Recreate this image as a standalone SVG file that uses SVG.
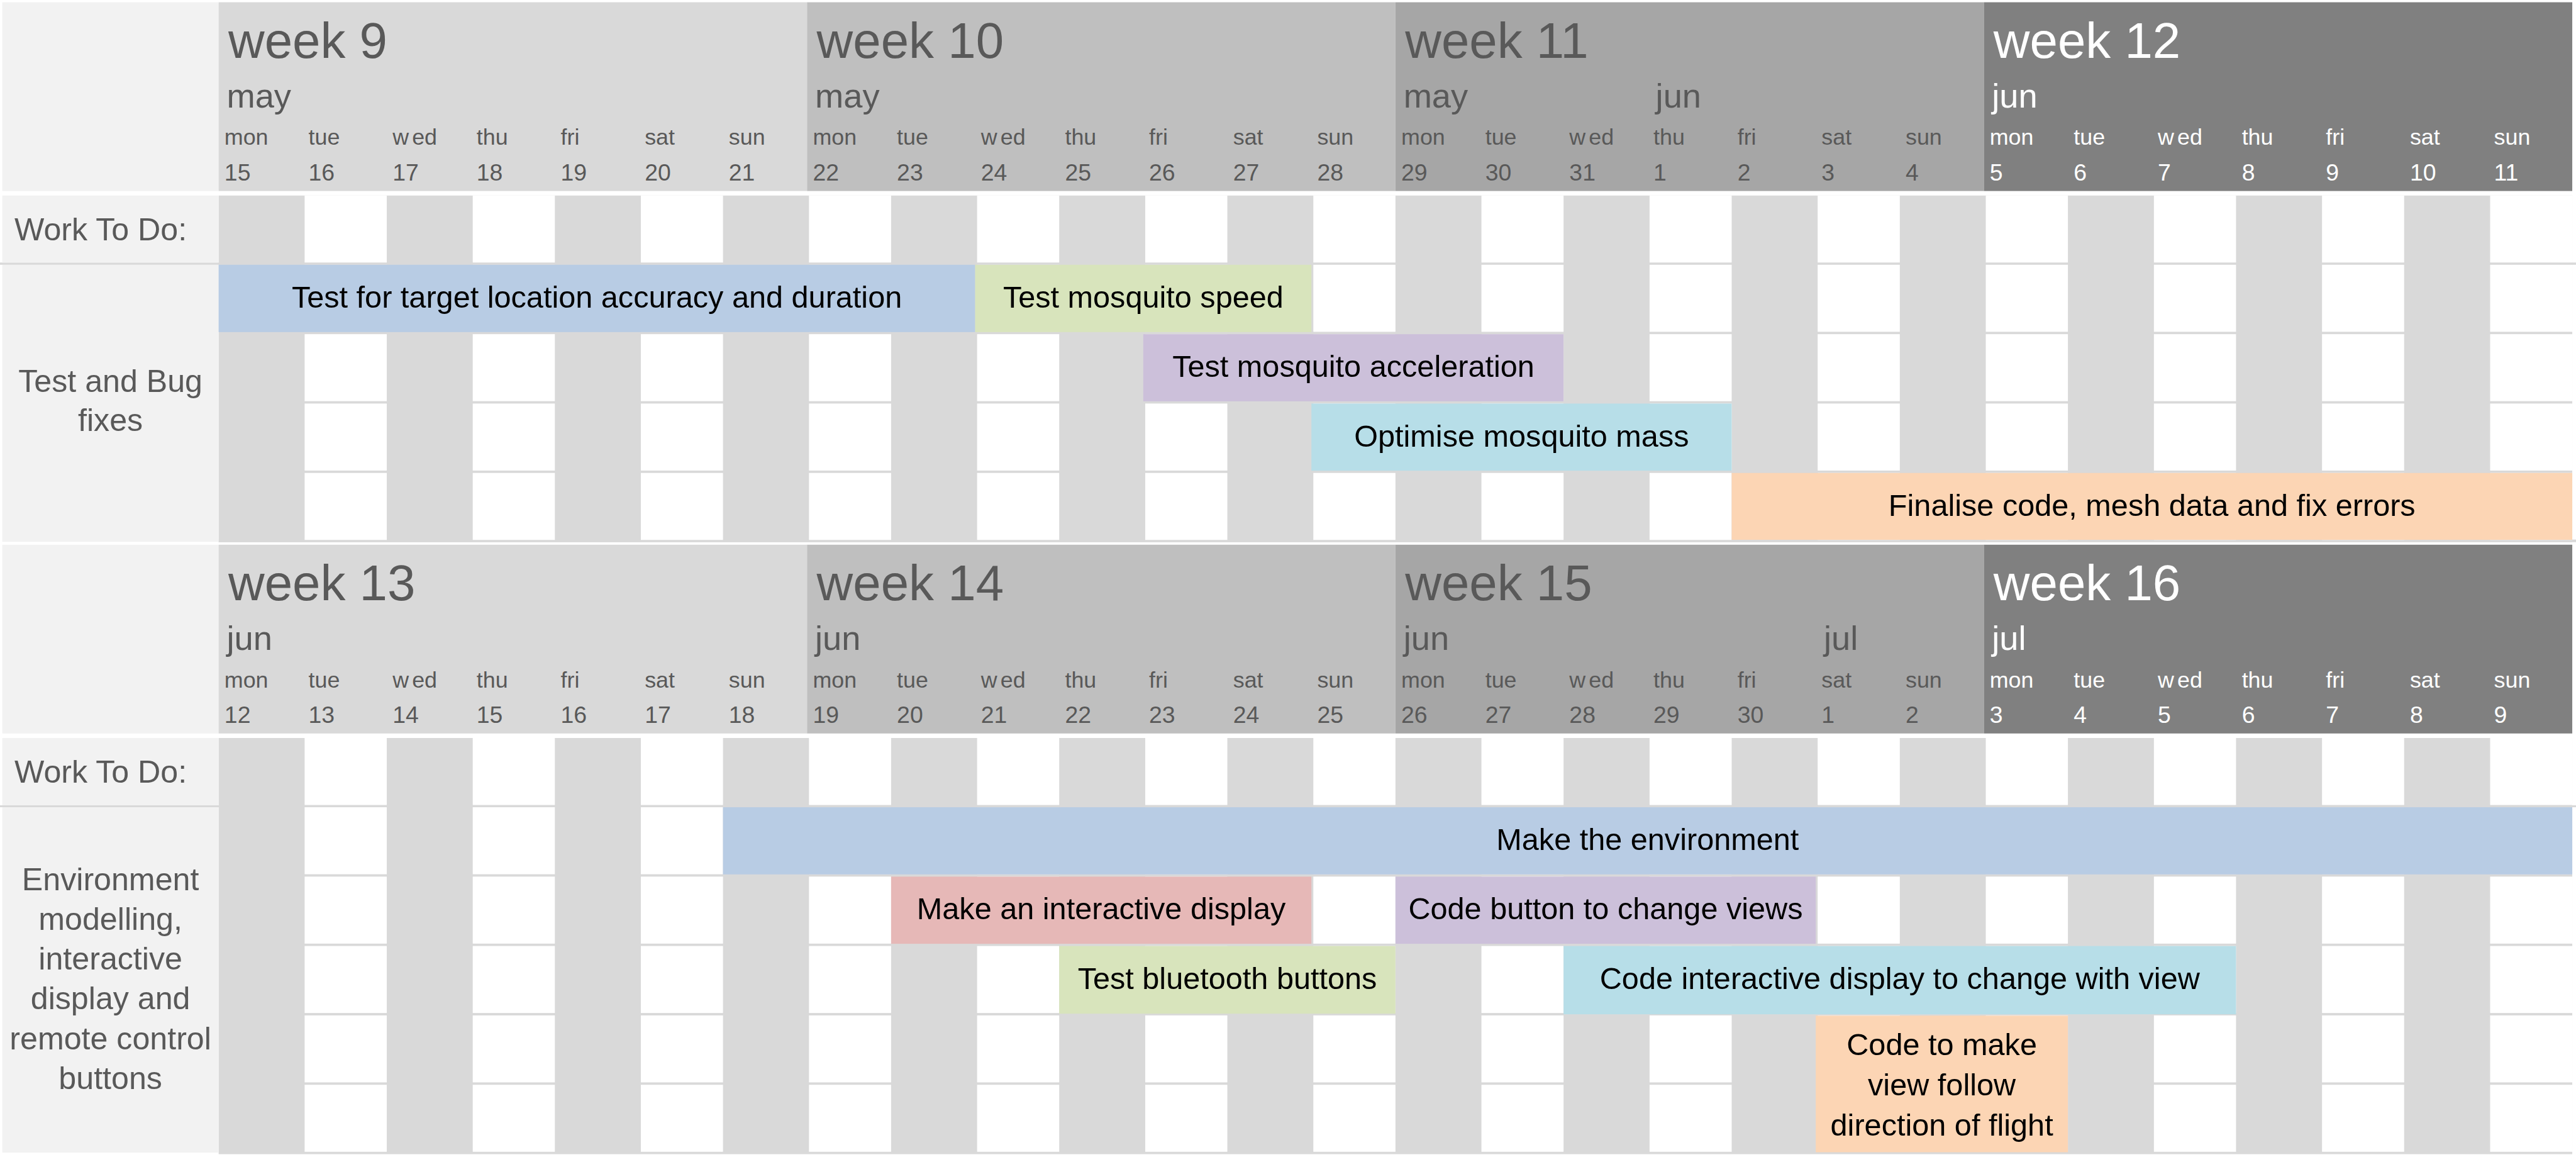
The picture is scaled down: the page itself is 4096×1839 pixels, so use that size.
<svg xmlns="http://www.w3.org/2000/svg" xmlns:xlink="http://www.w3.org/1999/xlink" width="4096" height="1839" viewBox="0 0 4096 1839">
<style>
text{font-family:"Liberation Sans",Arial,Helvetica,sans-serif}
.t{font-size:156px}
.m{font-size:106px}
.d{font-size:70px}
.n{font-size:73px}
.dk text{fill:#595959}
.lt text{fill:#ffffff}
.lbl{font-size:98px;fill:#595959}
.lblc{font-size:98px;fill:#595959;text-anchor:middle}
.bt{font-size:95px;fill:#000000;text-anchor:middle}
.lab{fill:#f2f2f2}
.gl{fill:#d9d9d9}
.wc{fill:#ffffff}
.blue{fill:#b8cce4}
.green{fill:#d8e4bc}
.purple{fill:#ccc0da}
.cyan{fill:#b7dee8}
.orange{fill:#fcd5b4}
.pink{fill:#e6b8b7}
</style>
<defs>
<g id="wrow">
<rect class="wc" x="946.05" y="0" width="255.05" height="208"/>
<rect class="wc" x="1468.15" y="0" width="255.05" height="208"/>
<rect class="wc" x="1990.25" y="0" width="255.05" height="208"/>
<rect class="wc" x="2512.35" y="0" width="255.05" height="208"/>
<rect class="wc" x="3034.45" y="0" width="255.05" height="208"/>
<rect class="wc" x="3556.55" y="0" width="255.05" height="208"/>
<rect class="wc" x="4078.65" y="0" width="255.05" height="208"/>
<rect class="wc" x="4600.75" y="0" width="255.05" height="208"/>
<rect class="wc" x="5122.85" y="0" width="255.05" height="208"/>
<rect class="wc" x="5644.95" y="0" width="255.05" height="208"/>
<rect class="wc" x="6167.05" y="0" width="255.05" height="208"/>
<rect class="wc" x="6689.15" y="0" width="255.05" height="208"/>
<rect class="wc" x="7211.25" y="0" width="255.05" height="208"/>
<rect class="wc" x="7733.35" y="0" width="255.05" height="208"/>
</g>
</defs>
<rect x="0" y="0" width="4096" height="1839" fill="#ffffff"/>
<g transform="scale(0.512)">

<g id="grid">
<rect class="gl" x="679" y="607" width="7309.4" height="1076"/>
<rect class="gl" x="0" y="815" width="8000" height="7"/>
<rect class="gl" x="679" y="1675" width="7321" height="8"/>
<use xlink:href="#wrow" y="607"/>
<use xlink:href="#wrow" y="822"/>
<use xlink:href="#wrow" y="1037.4"/>
<use xlink:href="#wrow" y="1252.8"/>
<use xlink:href="#wrow" y="1468.2"/>
<rect class="gl" x="679" y="2291" width="7309.4" height="1292"/>
<rect class="gl" x="0" y="2500" width="8000" height="6"/>
<use xlink:href="#wrow" y="2291"/>
<use xlink:href="#wrow" y="2506"/>
<use xlink:href="#wrow" y="2721.4"/>
<use xlink:href="#wrow" y="2936.8"/>
<use xlink:href="#wrow" y="3152.2"/>
<use xlink:href="#wrow" y="3367.6"/>
</g>

<g id="labels">
<g id="label-head-1"><rect class="lab" x="7" y="7" width="672" height="586"/></g>
<g id="label-work-1"><rect class="lab" x="7" y="607" width="672" height="208"/><text class="lbl" x="45" y="746">Work To Do:</text></g>
<g id="label-test"><rect class="lab" x="7" y="822" width="672" height="860"/>
<text class="lblc" x="343" y="1216">Test and Bug</text>
<text class="lblc" x="343" y="1338">fixes</text></g>
<g id="label-head-2"><rect class="lab" x="7" y="1691" width="672" height="586"/></g>
<g id="label-work-2"><rect class="lab" x="7" y="2291" width="672" height="209"/><text class="lbl" x="45" y="2430">Work To Do:</text></g>
<g id="label-env"><rect class="lab" x="7" y="2506" width="672" height="1072"/>
<text class="lblc" x="343" y="2763">Environment</text>
<text class="lblc" x="343" y="2886.5">modelling,</text>
<text class="lblc" x="343" y="3010">interactive</text>
<text class="lblc" x="343" y="3133.6">display and</text>
<text class="lblc" x="343" y="3257.5">remote control</text>
<text class="lblc" x="343" y="3380.7">buttons</text></g>
</g>

<g id="headers">
<g id="week9" class="dk" transform="translate(679,0)">
<rect x="0" y="7" width="1827.35" height="586" fill="#d9d9d9"/>
<text class="t" x="30" y="179">week 9</text>
<text class="m" x="25" y="334">may</text>
<text class="d" x="18" y="450">mon</text><text class="d" x="279.05" y="450">tue</text><text class="d" x="540.1" y="450">w<tspan dx="10">ed</tspan></text><text class="d" x="801.15" y="450">thu</text><text class="d" x="1062.2" y="450">fri</text><text class="d" x="1323.25" y="450">sat</text><text class="d" x="1584.3" y="450">sun</text>
<text class="n" x="18" y="561">15</text><text class="n" x="279.05" y="561">16</text><text class="n" x="540.1" y="561">17</text><text class="n" x="801.15" y="561">18</text><text class="n" x="1062.2" y="561">19</text><text class="n" x="1323.25" y="561">20</text><text class="n" x="1584.3" y="561">21</text>
</g>
<g id="week10" class="dk" transform="translate(2506.35,0)">
<rect x="0" y="7" width="1827.35" height="586" fill="#bfbfbf"/>
<text class="t" x="30" y="179">week 10</text>
<text class="m" x="25" y="334">may</text>
<text class="d" x="18" y="450">mon</text><text class="d" x="279.05" y="450">tue</text><text class="d" x="540.1" y="450">w<tspan dx="10">ed</tspan></text><text class="d" x="801.15" y="450">thu</text><text class="d" x="1062.2" y="450">fri</text><text class="d" x="1323.25" y="450">sat</text><text class="d" x="1584.3" y="450">sun</text>
<text class="n" x="18" y="561">22</text><text class="n" x="279.05" y="561">23</text><text class="n" x="540.1" y="561">24</text><text class="n" x="801.15" y="561">25</text><text class="n" x="1062.2" y="561">26</text><text class="n" x="1323.25" y="561">27</text><text class="n" x="1584.3" y="561">28</text>
</g>
<g id="week11" class="dk" transform="translate(4333.7,0)">
<rect x="0" y="7" width="1827.35" height="586" fill="#a6a6a6"/>
<text class="t" x="30" y="179">week 11</text>
<text class="m" x="25" y="334">may</text>
<text class="m" x="808.15" y="334">jun</text>
<text class="d" x="18" y="450">mon</text><text class="d" x="279.05" y="450">tue</text><text class="d" x="540.1" y="450">w<tspan dx="10">ed</tspan></text><text class="d" x="801.15" y="450">thu</text><text class="d" x="1062.2" y="450">fri</text><text class="d" x="1323.25" y="450">sat</text><text class="d" x="1584.3" y="450">sun</text>
<text class="n" x="18" y="561">29</text><text class="n" x="279.05" y="561">30</text><text class="n" x="540.1" y="561">31</text><text class="n" x="801.15" y="561">1</text><text class="n" x="1062.2" y="561">2</text><text class="n" x="1323.25" y="561">3</text><text class="n" x="1584.3" y="561">4</text>
</g>
<g id="week12" class="lt" transform="translate(6161.05,0)">
<rect x="0" y="7" width="1827.35" height="586" fill="#808080"/>
<text class="t" x="30" y="179">week 12</text>
<text class="m" x="25" y="334">jun</text>
<text class="d" x="18" y="450">mon</text><text class="d" x="279.05" y="450">tue</text><text class="d" x="540.1" y="450">w<tspan dx="10">ed</tspan></text><text class="d" x="801.15" y="450">thu</text><text class="d" x="1062.2" y="450">fri</text><text class="d" x="1323.25" y="450">sat</text><text class="d" x="1584.3" y="450">sun</text>
<text class="n" x="18" y="561">5</text><text class="n" x="279.05" y="561">6</text><text class="n" x="540.1" y="561">7</text><text class="n" x="801.15" y="561">8</text><text class="n" x="1062.2" y="561">9</text><text class="n" x="1323.25" y="561">10</text><text class="n" x="1584.3" y="561">11</text>
</g>
<g id="week13" class="dk" transform="translate(679,1684)">
<rect x="0" y="7" width="1827.35" height="586" fill="#d9d9d9"/>
<text class="t" x="30" y="179">week 13</text>
<text class="m" x="25" y="334">jun</text>
<text class="d" x="18" y="450">mon</text><text class="d" x="279.05" y="450">tue</text><text class="d" x="540.1" y="450">w<tspan dx="10">ed</tspan></text><text class="d" x="801.15" y="450">thu</text><text class="d" x="1062.2" y="450">fri</text><text class="d" x="1323.25" y="450">sat</text><text class="d" x="1584.3" y="450">sun</text>
<text class="n" x="18" y="561">12</text><text class="n" x="279.05" y="561">13</text><text class="n" x="540.1" y="561">14</text><text class="n" x="801.15" y="561">15</text><text class="n" x="1062.2" y="561">16</text><text class="n" x="1323.25" y="561">17</text><text class="n" x="1584.3" y="561">18</text>
</g>
<g id="week14" class="dk" transform="translate(2506.35,1684)">
<rect x="0" y="7" width="1827.35" height="586" fill="#bfbfbf"/>
<text class="t" x="30" y="179">week 14</text>
<text class="m" x="25" y="334">jun</text>
<text class="d" x="18" y="450">mon</text><text class="d" x="279.05" y="450">tue</text><text class="d" x="540.1" y="450">w<tspan dx="10">ed</tspan></text><text class="d" x="801.15" y="450">thu</text><text class="d" x="1062.2" y="450">fri</text><text class="d" x="1323.25" y="450">sat</text><text class="d" x="1584.3" y="450">sun</text>
<text class="n" x="18" y="561">19</text><text class="n" x="279.05" y="561">20</text><text class="n" x="540.1" y="561">21</text><text class="n" x="801.15" y="561">22</text><text class="n" x="1062.2" y="561">23</text><text class="n" x="1323.25" y="561">24</text><text class="n" x="1584.3" y="561">25</text>
</g>
<g id="week15" class="dk" transform="translate(4333.7,1684)">
<rect x="0" y="7" width="1827.35" height="586" fill="#a6a6a6"/>
<text class="t" x="30" y="179">week 15</text>
<text class="m" x="25" y="334">jun</text>
<text class="m" x="1330.25" y="334">jul</text>
<text class="d" x="18" y="450">mon</text><text class="d" x="279.05" y="450">tue</text><text class="d" x="540.1" y="450">w<tspan dx="10">ed</tspan></text><text class="d" x="801.15" y="450">thu</text><text class="d" x="1062.2" y="450">fri</text><text class="d" x="1323.25" y="450">sat</text><text class="d" x="1584.3" y="450">sun</text>
<text class="n" x="18" y="561">26</text><text class="n" x="279.05" y="561">27</text><text class="n" x="540.1" y="561">28</text><text class="n" x="801.15" y="561">29</text><text class="n" x="1062.2" y="561">30</text><text class="n" x="1323.25" y="561">1</text><text class="n" x="1584.3" y="561">2</text>
</g>
<g id="week16" class="lt" transform="translate(6161.05,1684)">
<rect x="0" y="7" width="1827.35" height="586" fill="#808080"/>
<text class="t" x="30" y="179">week 16</text>
<text class="m" x="25" y="334">jul</text>
<text class="d" x="18" y="450">mon</text><text class="d" x="279.05" y="450">tue</text><text class="d" x="540.1" y="450">w<tspan dx="10">ed</tspan></text><text class="d" x="801.15" y="450">thu</text><text class="d" x="1062.2" y="450">fri</text><text class="d" x="1323.25" y="450">sat</text><text class="d" x="1584.3" y="450">sun</text>
<text class="n" x="18" y="561">3</text><text class="n" x="279.05" y="561">4</text><text class="n" x="540.1" y="561">5</text><text class="n" x="801.15" y="561">6</text><text class="n" x="1062.2" y="561">7</text><text class="n" x="1323.25" y="561">8</text><text class="n" x="1584.3" y="561">9</text>
</g>
</g>

<g id="tasks">
<g id="task-target"><rect class="blue" x="679" y="822" width="2349.45" height="209"/><text class="bt" x="1853.7" y="955">Test for target location accuracy and duration</text></g>
<g id="task-speed"><rect class="green" x="3028.45" y="822" width="1044.2" height="209"/><text class="bt" x="3550.55" y="955">Test mosquito speed</text></g>
<g id="task-accel"><rect class="purple" x="3550.55" y="1037.4" width="1305.25" height="208.5"/><text class="bt" x="4203.2" y="1170.4">Test mosquito acceleration</text></g>
<g id="task-mass"><rect class="cyan" x="4072.65" y="1252.8" width="1305.25" height="208.5"/><text class="bt" x="4725.3" y="1385.8">Optimise mosquito mass</text></g>
<g id="task-finalise"><rect class="orange" x="5377.9" y="1468.2" width="2610.5" height="207.5"/><text class="bt" x="6683.15" y="1601.2">Finalise code, mesh data and fix errors</text></g>
<g id="task-environment"><rect class="blue" x="2245.3" y="2506" width="5743.1" height="208.5"/><text class="bt" x="5116.85" y="2639">Make the environment</text></g>
<g id="task-display"><rect class="pink" x="2767.4" y="2721.4" width="1305.25" height="208.5"/><text class="bt" x="3420" y="2854.4">Make an interactive display</text></g>
<g id="task-views"><rect class="purple" x="4333.7" y="2721.4" width="1305.25" height="208.5"/><text class="bt" x="4986.3" y="2854.4">Code button to change views</text></g>
<g id="task-bluetooth"><rect class="green" x="3289.5" y="2936.8" width="1044.2" height="210"/><text class="bt" x="3811.6" y="3069.8">Test bluetooth buttons</text></g>
<g id="task-interactive"><rect class="cyan" x="4855.8" y="2936.8" width="2088.4" height="212"/><text class="bt" x="5900" y="3069.8">Code interactive display to change with view</text></g>
<g id="task-follow"><rect class="orange" x="5638.95" y="3153" width="783.15" height="424"/>
<text class="bt" x="6030.5" y="3276">Code to make</text>
<text class="bt" x="6030.5" y="3400">view follow</text>
<text class="bt" x="6030.5" y="3526">direction of flight</text></g>
</g>

<g id="connectors"/>
</g>
</svg>
